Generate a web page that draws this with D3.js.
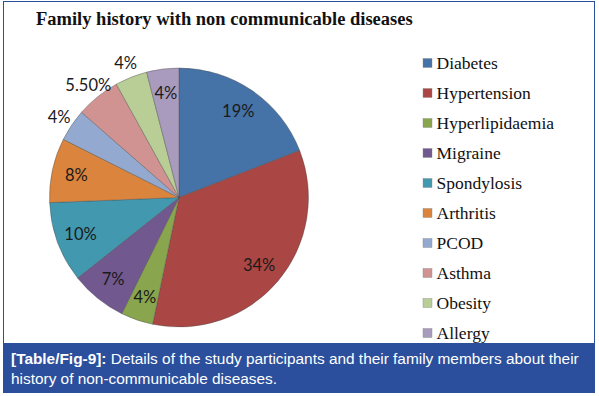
<!DOCTYPE html>
<html>
<head>
<meta charset="utf-8">
<script src="https://cdn.jsdelivr.net/npm/d3@7/dist/d3.min.js"></script>
<style>
  html, body { margin: 0; padding: 0; background: #ffffff; }
  svg { display: block; }
</style>
</head>
<body>
<svg id="chart" width="599" height="396"></svg>
<script>
// ---- data ----
const categories = ["Diabetes", "Hypertension", "Hyperlipidaemia", "Migraine", "Spondylosis",
                    "Arthritis", "PCOD", "Asthma", "Obesity", "Allergy"];
const values = [19, 34, 4, 7, 10, 8, 4, 5.5, 4, 4];
const valueLabels = ["19%", "34%", "4%", "7%", "10%", "8%", "4%", "5.50%", "4%", "4%"];
const colors = ["#4572A7", "#AA4643", "#89A54E", "#71588F", "#4198AF",
                "#DB843D", "#93A9CF", "#D19392", "#B9CD96", "#A99BBD"];
const outsideLabels = ["PCOD", "Asthma", "Obesity"];
const titleText = "Family history with non communicable diseases";
const captionBold = "[Table/Fig-9]:";
const captionLine1 = " Details of the study participants and their family members about their";
const captionLine2 = "history of non-communicable diseases.";

// ---- layout ----
const svg = d3.select("#chart");
const blue = "#2B4F9C";

// frame
svg.append("rect").attr("x", 3.5).attr("y", 1.5).attr("width", 591).attr("height", 391)
  .attr("fill", "#fff").attr("stroke", blue).attr("stroke-width", 1);

// title
svg.append("text").attr("x", 36).attr("y", 25)
  .attr("font-family", "Liberation Serif, Times New Roman, serif")
  .attr("font-weight", "bold").attr("font-size", 18.5).attr("fill", "#111")
  .text(titleText);

// pie
const cx = 179, cy = 197.5, R = 129.5;
const data = categories.map((c, i) => ({ cat: c, value: values[i], label: valueLabels[i], color: colors[i] }));
const pie = d3.pie().sort(null).value(d => d.value).startAngle(0).endAngle(2 * Math.PI);
const arcs = pie(data);
const arc = d3.arc().innerRadius(0).outerRadius(R);
const g = svg.append("g").attr("transform", `translate(${cx},${cy})`);
g.selectAll("path").data(arcs).join("path")
  .attr("d", arc)
  .attr("fill", d => d.data.color)
  .attr("stroke", "#4a4a4a").attr("stroke-opacity", 0.5).attr("stroke-width", 0.8);

const inArc = d3.arc().innerRadius(105).outerRadius(105);
const outArc = d3.arc().innerRadius(R + 15).outerRadius(R + 15);
g.selectAll("text.lbl").data(arcs).join("text")
  .attr("class", "lbl")
  .attr("transform", d => {
    const p = outsideLabels.includes(d.data.cat) ? outArc.centroid(d) : inArc.centroid(d);
    return `translate(${p[0]},${p[1]})`;
  })
  .attr("text-anchor", "middle").attr("dy", "0.35em")
  .attr("font-family", "Lato, Open Sans, sans-serif")
  .attr("font-size", 16.5).attr("fill", "#1a1a1a")
  .text(d => d.data.label);

// legend
const legend = svg.append("g");
const ly = d3.scalePoint().domain(categories).range([63, 333]);
const items = legend.selectAll("g").data(data).join("g")
  .attr("transform", d => `translate(423,${ly(d.cat)})`);
items.append("rect").attr("x", 0).attr("y", -4.5).attr("width", 9).attr("height", 9)
  .attr("fill", d => d.color).attr("stroke", "#888").attr("stroke-width", 0.4);
items.append("text").attr("x", 13.5).attr("y", 6)
  .attr("font-family", "Liberation Serif, Times New Roman, serif")
  .attr("font-size", 17.5).attr("fill", "#111")
  .text(d => d.cat);

// caption
svg.append("rect").attr("x", 3).attr("y", 343).attr("width", 592).attr("height", 50).attr("fill", blue);
const cap = svg.append("text").attr("x", 11).attr("y", 364)
  .attr("font-family", "Liberation Sans, Arial, sans-serif").attr("font-size", 15.4).attr("fill", "#fff");
cap.append("tspan").attr("font-weight", "bold").text(captionBold);
cap.append("tspan").text(captionLine1);
svg.append("text").attr("x", 11).attr("y", 384)
  .attr("font-family", "Liberation Sans, Arial, sans-serif").attr("font-size", 15.4).attr("fill", "#fff")
  .text(captionLine2);
</script>
</body>
</html>
